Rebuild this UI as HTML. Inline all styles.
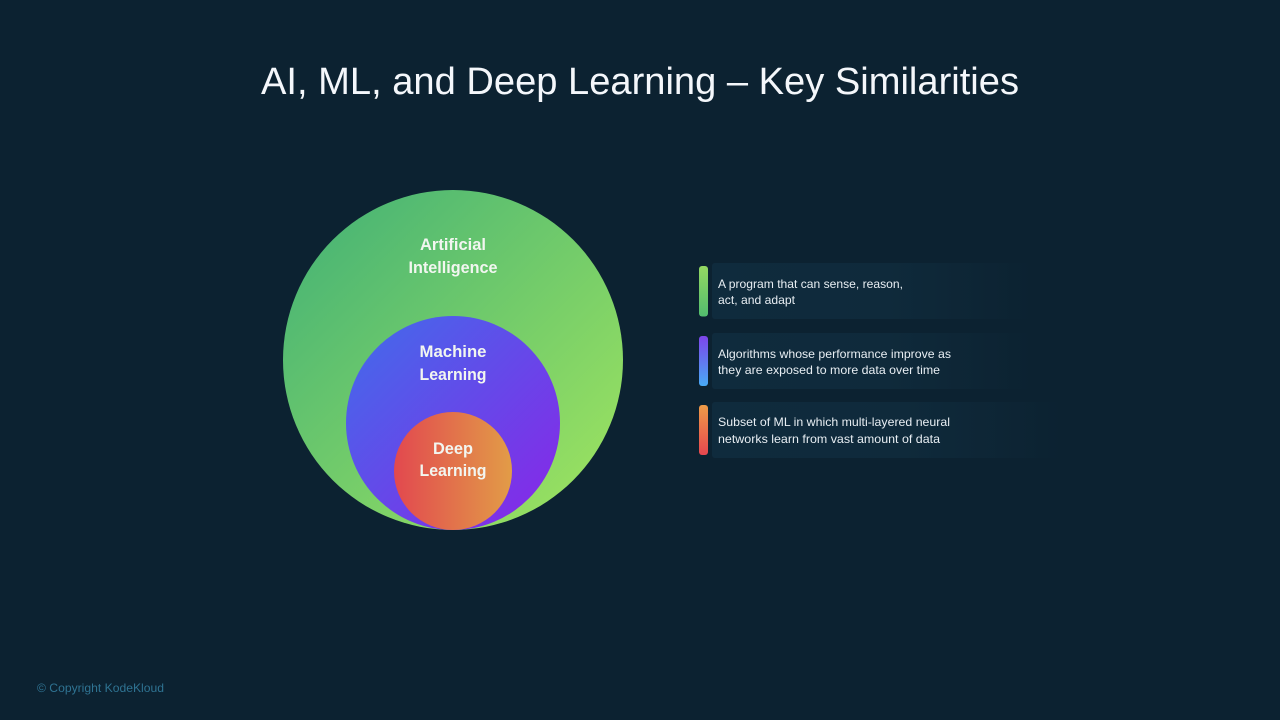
<!DOCTYPE html>
<html lang="en">
<head>
<meta charset="utf-8">
<title>AI, ML, and Deep Learning – Key Similarities</title>
<style>
html,body{margin:0;padding:0;width:1280px;height:720px;overflow:hidden;background:#0c2231}
svg{display:block;filter:blur(.35px)}
text{font-family:"Liberation Sans",sans-serif}
</style>
</head>
<body>
<svg width="1280" height="720" viewBox="0 0 1280 720" xmlns="http://www.w3.org/2000/svg">
<defs>
<linearGradient id="ai" x1="0.15" y1="0.15" x2="0.85" y2="0.85">
<stop offset="0" stop-color="#4fb873"/><stop offset="1" stop-color="#94de62"/>
</linearGradient>
<linearGradient id="ml" x1="0.15" y1="0.15" x2="0.85" y2="0.85">
<stop offset="0" stop-color="#4b62ea"/><stop offset="1" stop-color="#7f2fe8"/>
</linearGradient>
<linearGradient id="dl" x1="0" y1="0.5" x2="1" y2="0.5">
<stop offset="0" stop-color="#e2484f"/><stop offset="1" stop-color="#e29c47"/>
</linearGradient>
<linearGradient id="b1" x1="0" y1="0" x2="0" y2="1">
<stop offset="0" stop-color="#94d862"/><stop offset="1" stop-color="#52bd6e"/>
</linearGradient>
<linearGradient id="b2" x1="0" y1="0" x2="0" y2="1">
<stop offset="0" stop-color="#7d45ea"/><stop offset="1" stop-color="#48aaf5"/>
</linearGradient>
<linearGradient id="b3" x1="0" y1="0" x2="0" y2="1">
<stop offset="0" stop-color="#ee9c48"/><stop offset="1" stop-color="#e6474f"/>
</linearGradient>
<linearGradient id="panel" x1="0" y1="0" x2="1" y2="0">
<stop offset="0" stop-color="#0f2b3d"/><stop offset="0.55" stop-color="#0f2a3b"/><stop offset="1" stop-color="#0c2231"/>
</linearGradient>
</defs>

<rect width="1280" height="720" fill="#0c2231"/>

<text x="261" y="94" font-size="38" fill="#f4f7fb" textLength="758" lengthAdjust="spacingAndGlyphs">AI, ML, and Deep Learning – Key Similarities</text>

<circle cx="453" cy="360" r="170" fill="url(#ai)"/>
<circle cx="453" cy="423" r="107" fill="url(#ml)"/>
<circle cx="453" cy="471" r="59" fill="url(#dl)"/>

<g fill="#f2f6f0" font-size="16.5" font-weight="bold" text-anchor="middle">
<text x="453" y="250" textLength="66" lengthAdjust="spacingAndGlyphs">Artificial</text>
<text x="453" y="273" textLength="89" lengthAdjust="spacingAndGlyphs">Intelligence</text>
<text x="453" y="357" textLength="67" lengthAdjust="spacingAndGlyphs">Machine</text>
<text x="453" y="380" textLength="67" lengthAdjust="spacingAndGlyphs">Learning</text>
<text x="453" y="454" textLength="40" lengthAdjust="spacingAndGlyphs">Deep</text>
<text x="453" y="476" textLength="67" lengthAdjust="spacingAndGlyphs">Learning</text>
</g>

<rect x="712" y="263" width="320" height="56" rx="3" fill="url(#panel)"/>
<rect x="712" y="333" width="320" height="56" rx="3" fill="url(#panel)"/>
<rect x="712" y="402" width="350" height="56" rx="3" fill="url(#panel)"/>

<rect x="699" y="266" width="9" height="50.5" rx="3" fill="url(#b1)"/>
<rect x="699" y="336" width="9" height="50" rx="3" fill="url(#b2)"/>
<rect x="699" y="405" width="9" height="50" rx="3" fill="url(#b3)"/>

<g fill="#e8eef3" font-size="12">
<text x="718" y="288" textLength="185" lengthAdjust="spacingAndGlyphs">A program that can sense, reason,</text>
<text x="718" y="304" textLength="77" lengthAdjust="spacingAndGlyphs">act, and adapt</text>
<text x="718" y="358" textLength="233" lengthAdjust="spacingAndGlyphs">Algorithms whose performance improve as</text>
<text x="718" y="374" textLength="222" lengthAdjust="spacingAndGlyphs">they are exposed to more data over time</text>
<text x="718" y="426" textLength="232" lengthAdjust="spacingAndGlyphs">Subset of ML in which multi-layered neural</text>
<text x="718" y="443" textLength="222" lengthAdjust="spacingAndGlyphs">networks learn from vast amount of data</text>
</g>

<text x="37" y="692" font-size="12" fill="#2f7392" textLength="127" lengthAdjust="spacingAndGlyphs">© Copyright KodeKloud</text>
</svg>
</body>
</html>
